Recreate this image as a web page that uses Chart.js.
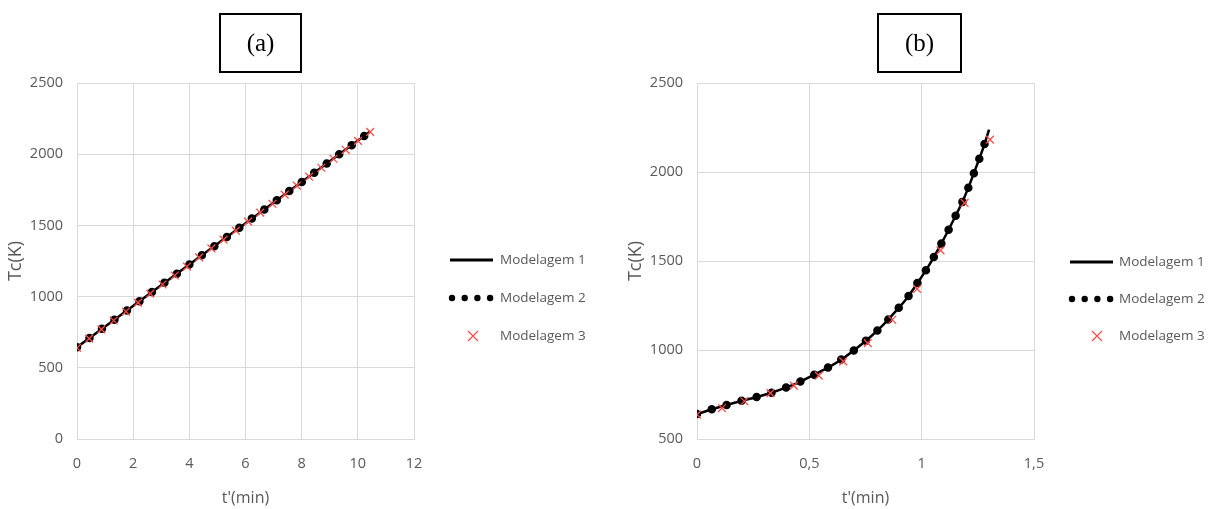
<!DOCTYPE html>
<html>
<head>
<meta charset="utf-8">
<script src="https://cdn.jsdelivr.net/npm/chart.js@4.4.1/dist/chart.umd.min.js"></script>
<style>
  html, body { margin: 0; padding: 0; background: #fff; }
  body { width: 1212px; height: 509px; position: relative; overflow: hidden; }
  .panel { position: absolute; top: 0; height: 509px; }
  .tag {
    position: absolute; top: 13px; height: 56px; border: 2px solid #000;
    font-family: "Liberation Serif", "DejaVu Serif", serif; font-size: 25px;
    text-align: center; line-height: 56px; color: #000; box-sizing: content-box;
  }
</style>
</head>
<body>
<div class="panel" style="left:0;width:610px"><canvas id="chartA"></canvas></div>
<div class="panel" style="left:620px;width:592px"><canvas id="chartB"></canvas></div>
<div class="tag" style="left:219px;width:79px">(a)</div>
<div class="tag" style="left:877px;width:81px">(b)</div>
<script>
/* ---- dados ---- */
// (a) Tc linear com t'
const timeA = [0, 0.435, 0.87, 1.305, 1.74, 2.175, 2.61, 3.045, 3.48, 3.915, 4.35, 4.785, 5.22,
               5.655, 6.09, 6.525, 6.96, 7.395, 7.83, 8.265, 8.7, 9.135, 9.57, 10.005, 10.44];
const tcA_m12 = [645, 708, 771, 834, 897, 960, 1023, 1087, 1150, 1213, 1276, 1339, 1402,
                 1465, 1528, 1591, 1654, 1717, 1780, 1843, 1907, 1970, 2033, 2096, 2159];
const tcA_m3 = [640, 705, 770, 832, 895, 958, 1021, 1085, 1148, 1211, 1275, 1338, 1400,
                1463, 1527, 1590, 1652, 1716, 1779, 1842, 1905, 1968, 2031, 2094, 2157];

// (b) Tc crescendo rapidamente
const timeB = [0, 0.067, 0.131, 0.2, 0.267, 0.334, 0.401, 0.468, 0.535, 0.597, 0.656, 0.716, 0.775,
               0.832, 0.884, 0.936, 0.98, 1.025, 1.066, 1.106, 1.144, 1.181, 1.213, 1.245, 1.274, 1.3];
const tcB_m12 = [640, 667, 691, 715, 736, 761, 791, 827, 870, 911, 958, 1015, 1077,
                 1146, 1217, 1294, 1374, 1460, 1549, 1642, 1736, 1831, 1929, 2036, 2135, 2238];
const timeB3 = [0, 0.111, 0.211, 0.327, 0.431, 0.542, 0.651, 0.76, 0.869, 0.98, 1.084, 1.191, 1.304];
const tcB_m3 = [637, 674, 712, 758, 800, 856, 936, 1039, 1170, 1343, 1560, 1826, 2182];

const seriesNames = ['Modelagem 1', 'Modelagem 2', 'Modelagem 3'];
const xTicksA = ['0', '2', '4', '6', '8', '10', '12'];
const xTicksB = ['0', '0,5', '1', '1,5'];
const yTicksA = ['0', '500', '1000', '1500', '2000', '2500'];
const yTicksB = ['500', '1000', '1500', '2000', '2500'];

const GRID = '#d9d9d9';
const TEXT = '#595959';
const FONT = '"Open Sans", "DejaVu Sans", sans-serif';

function pts(xs, ys) { return xs.map((x, i) => ({ x, y: ys[i] })); }

/** legenda desenhada à direita do gráfico */
const legendPlugin = {
    id: 'excelLegend',
    afterDraw(chart, args, o) {
        const ctx = chart.ctx;
        ctx.save();
        ctx.font = '13.5px ' + FONT;
        ctx.textBaseline = 'middle';
        // linha
        ctx.strokeStyle = '#000'; ctx.lineWidth = 3;
        ctx.beginPath(); ctx.moveTo(o.x, o.y[0]); ctx.lineTo(o.x + 43, o.y[0]); ctx.stroke();
        // pontos
        ctx.fillStyle = '#000';
        for (let i = 0; i < 4; i++) {
            ctx.beginPath(); ctx.arc(o.x + 2 + i * 12.7, o.y[1], 3.2, 0, Math.PI * 2); ctx.fill();
        }
        // x vermelho
        ctx.strokeStyle = '#ff4a4a'; ctx.lineWidth = 1.2;
        const cx = o.crossX, cy = o.y[2], r = 5;
        ctx.beginPath();
        ctx.moveTo(cx - r, cy - r); ctx.lineTo(cx + r, cy + r);
        ctx.moveTo(cx - r, cy + r); ctx.lineTo(cx + r, cy - r);
        ctx.stroke();
        ctx.fillStyle = TEXT;
        seriesNames.forEach((n, i) => ctx.fillText(n, o.textX, o.y[i]));
        ctx.restore();
    }
};

function makeChart(id, w, m12, m3, xOpts, yOpts, yLabels, legendOpts, tension) {
    const canvas = document.getElementById(id);
    canvas.width = w; canvas.height = 509;
    return new Chart(canvas.getContext('2d'), {
        type: 'scatter',
        data: {
            datasets: [{
                label: seriesNames[0], data: m12, showLine: true, order: 3,
                borderColor: '#000', borderWidth: 2.5, pointRadius: 0,
                cubicInterpolationMode: tension ? 'monotone' : 'default'
            }, {
                label: seriesNames[1], data: m12, showLine: true, order: 2,
                borderColor: '#000', borderWidth: 8.5, borderDash: [0, 15.5], borderCapStyle: 'round',
                pointRadius: 0, cubicInterpolationMode: tension ? 'monotone' : 'default'
            }, {
                label: seriesNames[2], data: m3, showLine: false, order: 1,
                pointStyle: 'crossRot', pointRadius: 5.5, borderColor: '#ff4a4a',
                backgroundColor: '#ff4a4a', borderWidth: 1.3
            }]
        },
        options: {
            responsive: false,
            animation: false,
            layout: { padding: { top: 83, right: w - 414, left: 0, bottom: 0 } },
            plugins: { legend: { display: false }, tooltip: { enabled: false }, excelLegend: legendOpts },
            scales: {
                x: Object.assign({
                    type: 'linear',
                    grid: { color: GRID, lineWidth: 1, drawTicks: false },
                    border: { color: GRID },
                    title: { display: true, text: "t'(min)", color: TEXT, font: { family: FONT, size: 16 }, padding: { top: 0, bottom: 1 } },
                    afterFit: s => { s.height = 70; }
                }, xOpts),
                y: Object.assign({
                    type: 'linear',
                    grid: { color: GRID, lineWidth: 1, drawTicks: false },
                    border: { color: GRID },
                    ticks: { color: TEXT, font: { family: FONT, size: 14.5 }, padding: 14, stepSize: 500,
                        callback: v => yLabels[Math.round((v - yOpts.min) / 500)] },
                    title: { display: true, text: 'Tc(K)', color: TEXT, font: { family: FONT, size: 18 }, padding: { top: 5, bottom: 0 } },
                    afterFit: s => { s.width = 77; }
                }, yOpts)
            }
        },
        plugins: [legendPlugin]
    });
}

makeChart('chartA', 610, pts(timeA, tcA_m12), pts(timeA, tcA_m3),
    { min: 0, max: 12, ticks: { color: TEXT, font: { family: FONT, size: 14.5 }, padding: 16, stepSize: 2,
      callback: v => xTicksA[Math.round(v / 2)] } },
    { min: 0, max: 2500 }, yTicksA,
    { x: 450, y: [260, 298, 336], textX: 500, crossX: 473 }, false);

makeChart('chartB', 592, pts(timeB, tcB_m12), pts(timeB3, tcB_m3),
    { min: 0, max: 1.5, ticks: { color: TEXT, font: { family: FONT, size: 14.5 }, padding: 16, stepSize: 0.5,
      callback: v => xTicksB[Math.round(v / 0.5)] } },
    { min: 500, max: 2500 }, yTicksB,
    { x: 450, y: [262, 299, 336], textX: 499, crossX: 477 }, true);
</script>
</body>
</html>
